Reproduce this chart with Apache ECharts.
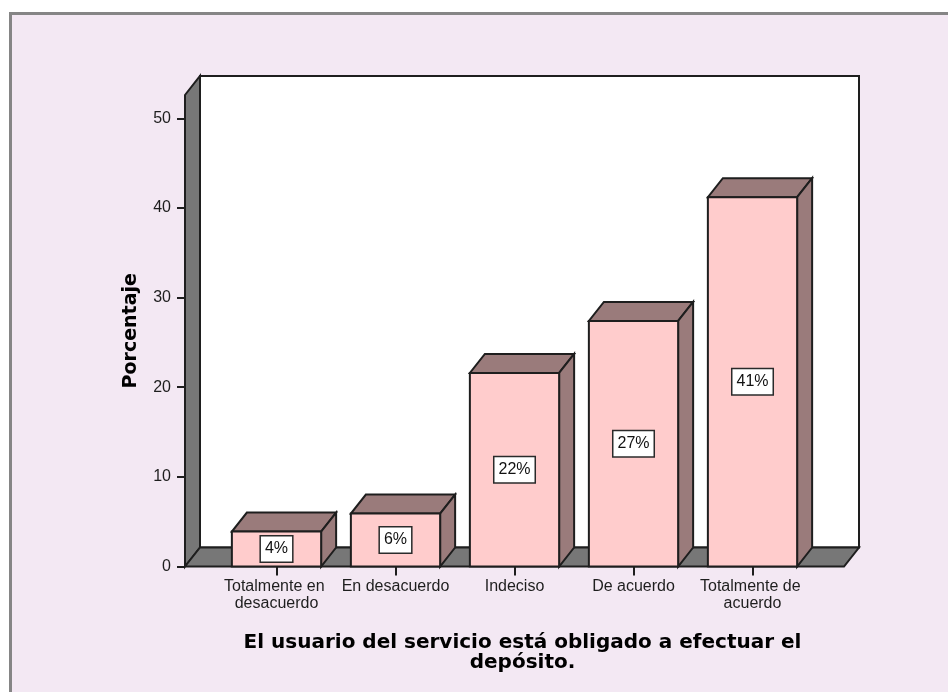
<!DOCTYPE html>
<html>
<head>
<meta charset="utf-8">
<script src="https://cdn.jsdelivr.net/npm/echarts@6/dist/echarts.min.js"></script>
<style>
  html, body { margin: 0; padding: 0; background: #fff; }
  #chart { width: 948px; height: 692px; }
</style>
</head>
<body>
<div id="chart"></div>
<script>
// datos
const categories = ['Totalmente en desacuerdo', 'En desacuerdo', 'Indeciso', 'De acuerdo', 'Totalmente de acuerdo'];
const percentages = [3.9, 5.9, 21.6, 27.4, 41.2];
const yTicks = [0, 10, 20, 30, 40, 50];
const yMax = 52.6;

// estilo 3D tipo SPSS
const DEPTH_X = 15;
const DEPTH_Y = -19;
const PAD = 32;          // suelo sobresale de la banda de categorias
const BAR_RATIO = 0.75;
const EDGE = '#1e1e1e';
const WALL_GRAY = '#777777';
const FRONT = '#ffcccc';
const SIDE = '#9a7b7b';

const chart = echarts.init(document.getElementById('chart'), null, { renderer: 'canvas' });

function poly(points, fill, z2) {
  return {
    type: 'polygon',
    z2: z2 || 0,
    shape: { points: points },
    style: { fill: fill, stroke: EDGE, lineWidth: 2, lineJoin: 'miter' }
  };
}

function renderFrame(params, api) {
  const band = api.size([1, 0])[0];
  const first = api.coord([0, 0]);
  const last = api.coord([categories.length - 1, 0]);
  const top = api.coord([0, yMax])[1];
  const y0 = first[1];
  const xl = first[0] - band / 2 - PAD;
  const xr = last[0] + band / 2 + PAD;
  return {
    type: 'group',
    children: [
      // pared del fondo
      poly([[xl + DEPTH_X, top + DEPTH_Y], [xr + DEPTH_X, top + DEPTH_Y],
            [xr + DEPTH_X, y0 + DEPTH_Y], [xl + DEPTH_X, y0 + DEPTH_Y]], '#fff', 0),
      // pared izquierda
      poly([[xl, y0], [xl, top], [xl + DEPTH_X, top + DEPTH_Y], [xl + DEPTH_X, y0 + DEPTH_Y]], WALL_GRAY, 1),
      // suelo
      poly([[xl, y0], [xr, y0], [xr + DEPTH_X, y0 + DEPTH_Y], [xl + DEPTH_X, y0 + DEPTH_Y]], WALL_GRAY, 1)
    ]
  };
}

function renderBar(params, api) {
  const i = api.value(0);
  const v = api.value(1);
  const top = api.coord([i, v]);
  const base = api.coord([i, 0]);
  const w = api.size([1, 0])[0] * BAR_RATIO;
  const x0 = top[0] - w / 2;
  const x1 = top[0] + w / 2;
  const yt = top[1];
  const yb = base[1];
  return {
    type: 'group',
    children: [
      poly([[x0, yt], [x1, yt], [x1 + DEPTH_X, yt + DEPTH_Y], [x0 + DEPTH_X, yt + DEPTH_Y]], SIDE),
      poly([[x1, yt], [x1 + DEPTH_X, yt + DEPTH_Y], [x1 + DEPTH_X, yb + DEPTH_Y], [x1, yb]], SIDE),
      poly([[x0, yt], [x1, yt], [x1, yb], [x0, yb]], FRONT),
      {
        type: 'text',
        z2: 5,
        style: {
          text: Math.round(v) + '%',
          x: top[0],
          y: (yt + yb) / 2,
          align: 'center',
          verticalAlign: 'middle',
          fill: '#111',
          font: '16px "Liberation Sans", Arial, sans-serif',
          backgroundColor: '#fff',
          borderColor: '#2a2a2a',
          borderWidth: 1.5,
          padding: [5, 4, 4, 4]
        }
      }
    ]
  };
}

const option = {
  animation: false,
  backgroundColor: '#fff',
  graphic: [
    {
      type: 'rect',
      z: -10,
      shape: { x: 10.5, y: 13.5, width: 960, height: 700 },
      style: { fill: '#f3e8f3', stroke: '#858585', lineWidth: 3 }
    }
  ],
  grid: { left: 217, right: 136, top: 95, bottom: 125.5 },
  xAxis: {
    type: 'category',
    data: categories,
    axisLine: { show: false },
    axisTick: { show: true, alignWithLabel: true, length: 9, lineStyle: { color: '#1e1e1e', width: 2 } },
    axisLabel: {
      margin: 12,
      color: '#1e1e1e',
      fontFamily: 'Liberation Sans',
      fontSize: 16,
      lineHeight: 17,
      width: 115,
      overflow: 'break',
      interval: 0
    },
    splitLine: { show: false },
    name: 'El usuario del servicio está obligado a efectuar el\ndepósito.',
    nameLocation: 'middle',
    nameGap: 66,
    nameTextStyle: {
      color: '#000',
      fontFamily: 'DejaVu Sans',
      fontWeight: 'bold',
      fontSize: 20,
      lineHeight: 20,
      align: 'center',
      padding: [0, 0, 0, 16]
    }
  },
  yAxis: {
    type: 'value',
    min: 0,
    max: yMax,
    offset: PAD,
    axisLine: { show: false },
    axisTick: { show: true, length: 8, customValues: yTicks, lineStyle: { color: '#1e1e1e', width: 2 } },
    axisLabel: {
      customValues: yTicks,
      margin: 14,
      color: '#1e1e1e',
      fontFamily: 'Liberation Sans',
      fontSize: 16
    },
    splitLine: { show: false },
    name: 'Porcentaje',
    nameLocation: 'middle',
    nameGap: 44,
    nameTextStyle: {
      color: '#000',
      fontFamily: 'DejaVu Sans',
      fontWeight: 'bold',
      fontSize: 19
    }
  },
  series: [
    {
      name: 'marco',
      type: 'custom',
      silent: true,
      z: 1,
      renderItem: renderFrame,
      encode: { x: 0, y: 1 },
      data: [[0, 0]]
    },
    {
      name: 'Porcentaje',
      type: 'custom',
      z: 2,
      renderItem: renderBar,
      encode: { x: 0, y: 1 },
      data: percentages.map((v, i) => [i, v])
    }
  ]
};

chart.setOption(option);
window.addEventListener('resize', () => chart.resize());
</script>
</body>
</html>
